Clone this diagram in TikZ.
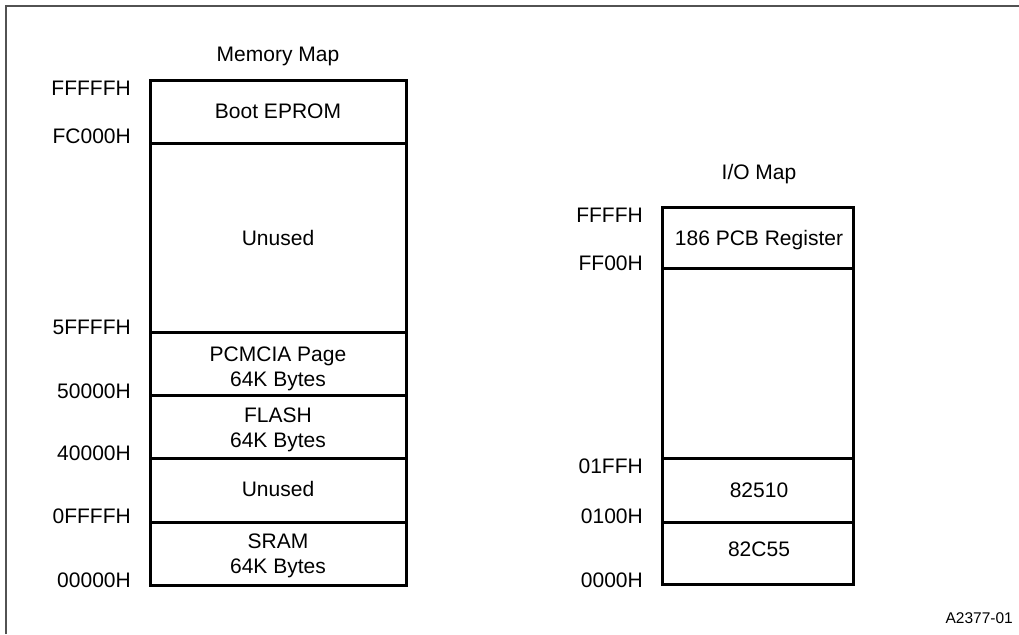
\documentclass[tikz,border=0pt]{standalone}
\usepackage{fontspec}
\setmainfont{Liberation Sans}
\begin{document}
\begin{tikzpicture}[x=1pt,y=-1pt,
  lbl/.style={inner sep=0pt,font=\fontsize{21}{25}\selectfont},
  addr/.style={lbl,anchor=base east},
  cell/.style={lbl,anchor=base,align=center},
  mapbox/.style={line width=3pt,draw=black},
  frame/.style={line width=2pt,draw=black!68}]
\useasboundingbox (0,0) rectangle (1019,634);
% frame (cropped: only top and left edges visible)
\draw[frame] (6,634) -- (6,6.5) -- (1019,6.5);

% ---------------- Memory Map ----------------
\node[cell] (mtitle) at (278,61) {Memory Map};
\draw[mapbox] (150,80) rectangle (406,585);
\foreach \yy in {143,332,395,458,522}
  \draw[mapbox] (150,\yy) -- (406,\yy);
\node[cell] (boot) at (278,118) {Boot EPROM};
\node[cell] (unused1) at (278,245) {Unused};
\node[cell] (pcmcia) at (278,386) {PCMCIA Page\\64K Bytes};
\node[cell] (flash) at (278,447) {FLASH\\64K Bytes};
\node[cell] (unused2) at (278,496) {Unused};
\node[cell] (sram) at (278,573) {SRAM\\64K Bytes};

\node[addr] (a1) at (131,95) {FFFFFH};
\node[addr] (a2) at (131,143) {FC000H};
\node[addr] (a3) at (131,334) {5FFFFH};
\node[addr] (a4) at (131,398) {50000H};
\node[addr] (a5) at (131,460) {40000H};
\node[addr] (a6) at (131,523) {0FFFFH};
\node[addr] (a7) at (131,587) {00000H};

% ---------------- I/O Map ----------------
\node[cell] (iotitle) at (759,179) {I/O Map};
\draw[mapbox] (662,207) rectangle (853,584);
\foreach \yy in {268,458,522}
  \draw[mapbox] (662,\yy) -- (853,\yy);
\node[cell] (pcb) at (759,245) {186 PCB Register};
\node[cell] (s510) at (759,497) {82510};
\node[cell] (c55) at (759,556) {82C55};

\node[addr] (b1) at (643,222) {FFFFH};
\node[addr] (b2) at (643,270) {FF00H};
\node[addr] (b3) at (643,473) {01FFH};
\node[addr] (b4) at (643,523) {0100H};
\node[addr] (b5) at (643,587) {0000H};

\node[lbl,anchor=base east,font=\fontsize{15.5}{18}\selectfont] (fig) at (1013,623) {A2377-01};
\end{tikzpicture}
\end{document}
